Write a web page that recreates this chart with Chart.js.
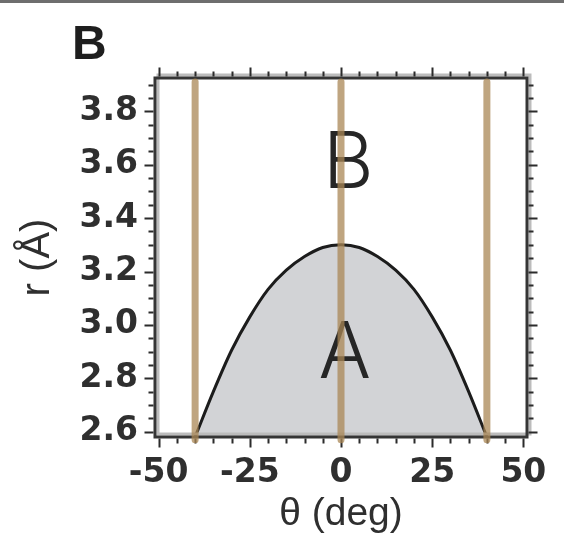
<!DOCTYPE html>
<html>
<head>
<meta charset="utf-8">
<script src="https://cdn.jsdelivr.net/npm/chart.js@4/dist/chart.umd.min.js"></script>
<style>
  html, body { margin: 0; padding: 0; background: #fff; }
  #wrap { width: 564px; height: 555px; position: relative; }
</style>
</head>
<body>
<div id="wrap"><canvas id="chart" width="564" height="555"></canvas></div>
<script>
// barrier profile r(theta)
const thetaDeg = [-40, -35, -30, -25, -20, -15, -10, -5, 0, 5, 10, 15, 20, 25, 30, 35, 40];
const rAngstrom = [2.58, 2.75, 2.905, 3.03, 3.133, 3.205, 3.256, 3.29, 3.30, 3.29, 3.256, 3.205, 3.133, 3.03, 2.905, 2.75, 2.58];

// vertical guide lines and their extent in r
const guideTheta = [-40, 0, 40];
const guideSpan = [2.57, 3.91];

const xTickValues = [-50, -25, 0, 25, 50];
const yTickValues = [2.6, 2.8, 3.0, 3.2, 3.4, 3.6, 3.8];

const INK = '#2f2f2f';
const FONT = '"Liberation Sans", Arial, sans-serif';
const TICK_FONT = '"DejaVu Sans", Verdana, sans-serif';

const curveIndex = 0;

const datasets = [{
  data: thetaDeg.map((t, i) => ({ x: t, y: rAngstrom[i] })),
  borderColor: '#1c1c1c',
  borderWidth: 3,
  backgroundColor: '#d2d3d6',
  fill: 'start',
  pointRadius: 0,
  cubicInterpolationMode: 'monotone',
  order: 2
}];
guideTheta.forEach(t => {
  datasets.push({
    data: guideSpan.map(r => ({ x: t, y: r })),
    borderColor: 'rgba(170,135,85,0.75)',
    borderWidth: 7,
    borderCapStyle: 'round',
    pointRadius: 0,
    fill: false,
    clip: false,
    order: 1
  });
});

// frame, outward ticks and region letters, drawn between the curve and the guides
const framePlugin = {
  id: 'frame',
  afterDatasetDraw(chart, args) {
    if (args.index !== curveIndex) return;
    const { ctx, chartArea: a, scales: { x, y } } = chart;
    const w = a.right - a.left, h = a.bottom - a.top;
    ctx.save();

    // letters
    ctx.fillStyle = '#262626';
    ctx.textAlign = 'center';
    ctx.textBaseline = 'alphabetic';
    ctx.font = '300 78px Inter, "Liberation Sans", sans-serif';
    ctx.fillText('B', x.getPixelForValue(2), y.getPixelForValue(3.513));
    ctx.fillText('A', x.getPixelForValue(1), y.getPixelForValue(2.8));

    // offset shadow frame, then the dark frame
    ctx.lineWidth = 3;
    ctx.strokeStyle = '#bcbcbc';
    ctx.strokeRect(a.left + 3, a.top - 3, w, h);
    ctx.strokeStyle = '#353535';
    ctx.strokeRect(a.left, a.top, w, h);

    ctx.lineWidth = 2;
    ctx.strokeStyle = '#2b2b2b';
    ctx.beginPath();
    for (let t = -50; t <= 50; t += 5) {
      const px = Math.round(x.getPixelForValue(t)) + 0.5;
      const len = t % 25 === 0 ? 9 : 5;
      ctx.moveTo(px, a.bottom + 1.5);
      ctx.lineTo(px, a.bottom + 1.5 + len);
      ctx.moveTo(px, a.top - 1.5);
      ctx.lineTo(px, a.top - 1.5 - len);
    }
    for (let i = 0; i <= 26; i++) {
      const v = 2.6 + i * 0.05;
      const py = Math.round(y.getPixelForValue(v)) + 0.5;
      const len = i % 4 === 0 ? 9 : 5;
      ctx.moveTo(a.left - 1.5, py);
      ctx.lineTo(a.left - 1.5 - len, py);
      ctx.moveTo(a.right + 1.5, py);
      ctx.lineTo(a.right + 1.5 + len, py);
    }
    ctx.stroke();
    ctx.restore();
  },
  afterDraw(chart) {
    const { ctx } = chart;
    ctx.save();
    ctx.fillStyle = '#6e6e6e';
    ctx.fillRect(0, 0, chart.width, 3);
    ctx.fillStyle = '#1e1e1e';
    ctx.font = 'bold 48px ' + FONT;
    ctx.textAlign = 'left';
    ctx.textBaseline = 'alphabetic';
    ctx.fillText('B', 72, 59);
    ctx.restore();
  }
};

new Chart(document.getElementById('chart'), {
  type: 'line',
  data: { datasets },
  options: {
    responsive: false,
    animation: false,
    layout: { padding: { top: 78, right: 37, left: 0, bottom: 0 } },
    plugins: { legend: { display: false }, tooltip: { enabled: false } },
    scales: {
      x: {
        type: 'linear',
        min: -51,
        max: 51,
        afterBuildTicks: s => { s.ticks = xTickValues.map(v => ({ value: v })); },
        afterFit: s => { s.height = 118; },
        grid: { display: false, drawTicks: false },
        border: { display: false },
        ticks: {
          autoSkip: false,
          maxRotation: 0,
          padding: 17,
          color: INK,
          font: { family: TICK_FONT, size: 33, weight: 'bold' },
          callback: v => String(v)
        },
        title: {
          display: true,
          text: 'θ (deg)',
          color: INK,
          font: { family: FONT, size: 39 },
          padding: { top: 0, bottom: 17 }
        }
      },
      y: {
        type: 'linear',
        min: 2.58,
        max: 3.925,
        afterBuildTicks: s => { s.ticks = yTickValues.map(v => ({ value: v })); },
        afterFit: s => { s.width = 155; },
        grid: { display: false, drawTicks: false },
        border: { display: false },
        ticks: {
          autoSkip: false,
          padding: 17,
          color: INK,
          font: { family: TICK_FONT, size: 33, weight: 'bold' },
          callback: v => v.toFixed(1)
        },
        title: {
          display: true,
          text: 'r (Å)',
          color: INK,
          font: { family: FONT, size: 40 },
          padding: { top: 14, bottom: 0 }
        }
      }
    }
  },
  plugins: [framePlugin]
});
</script>
</body>
</html>
